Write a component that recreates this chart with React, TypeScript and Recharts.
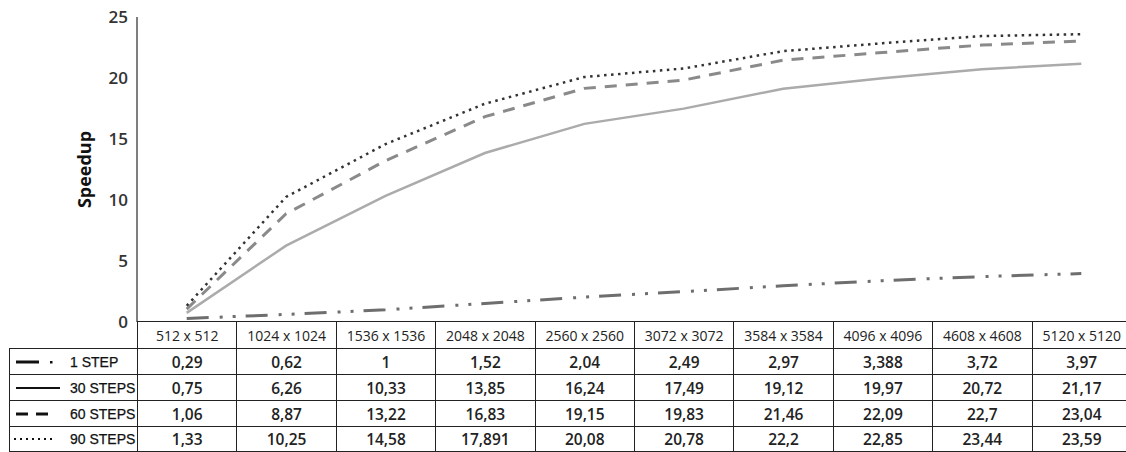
import React from 'react';
import { LineChart, Line, XAxis, YAxis } from 'recharts';

const categories = [
  '512 x 512',
  '1024 x 1024',
  '1536 x 1536',
  '2048 x 2048',
  '2560 x 2560',
  '3072 x 3072',
  '3584 x 3584',
  '4096 x 4096',
  '4608 x 4608',
  '5120 x 5120',
];

const step1 = [0.29, 0.62, 1, 1.52, 2.04, 2.49, 2.97, 3.388, 3.72, 3.97];
const steps30 = [0.75, 6.26, 10.33, 13.85, 16.24, 17.49, 19.12, 19.97, 20.72, 21.17];
const steps60 = [1.06, 8.87, 13.22, 16.83, 19.15, 19.83, 21.46, 22.09, 22.7, 23.04];
const steps90 = [1.33, 10.25, 14.58, 17.891, 20.08, 20.78, 22.2, 22.85, 23.44, 23.59];

const yTicks = [0, 5, 10, 15, 20, 25];

const series = [
  { key: 's1', label: '1 STEP', values: step1, color: '#6e6e6e', width: 3, dash: '22 11 3 10 3 10' },
  { key: 's30', label: '30 STEPS', values: steps30, color: '#ababab', width: 2.5, dash: undefined },
  { key: 's60', label: '60 STEPS', values: steps60, color: '#8a8a8a', width: 3, dash: '12 9' },
  { key: 's90', label: '90 STEPS', values: steps90, color: '#333333', width: 2.5, dash: '2.5 4.5' },
];

const data = categories.map((c, i) => {
  const row: Record<string, string | number> = { name: c };
  series.forEach((s) => {
    row[s.key] = s.values[i];
  });
  return row;
});

const AXIS_X = 137;
const COL_W = 99.4;
const fmt = (v: number) => String(v).replace('.', ',');

function LegendKey({ kind }: { kind: string }) {
  return (
    <svg width={60} height={10} style={{ display: 'block', flex: 'none' }}>
      {kind === 's1' && (
        <>
          <line x1={6} y1={5} x2={29} y2={5} stroke="#111" strokeWidth={3} />
          <rect x={40} y={4} width={2.5} height={2.5} fill="#111" />
        </>
      )}
      {kind === 's30' && <line x1={6} y1={5} x2={50} y2={5} stroke="#111" strokeWidth={2} />}
      {kind === 's60' && (
        <>
          <line x1={6} y1={5} x2={18} y2={5} stroke="#111" strokeWidth={3} />
          <line x1={26} y1={5} x2={38} y2={5} stroke="#111" strokeWidth={3} />
        </>
      )}
      {kind === 's90' && (
        <line x1={4} y1={5} x2={44} y2={5} stroke="#111" strokeWidth={2} strokeDasharray="2 4" />
      )}
    </svg>
  );
}

export default function App() {
  const border = '1px solid #222';
  const rowH = [27, 26, 26, 26, 25];
  return (
    <div
      style={{
        position: 'absolute',
        left: 0,
        top: 0,
        width: 1126,
        height: 452,
        overflow: 'hidden',
        background: '#fff',
      }}
    >
      <LineChart
        width={AXIS_X + COL_W * 10}
        height={345}
        data={data}
        margin={{ top: 17, right: 0, bottom: 23, left: 0 }}
      >
        <XAxis dataKey="name" hide padding={{ left: COL_W / 2, right: COL_W / 2 }} />
        <YAxis
          width={AXIS_X}
          domain={[0, 25]}
          ticks={yTicks}
          tickLine={false}
          axisLine={{ stroke: '#555', strokeWidth: 1.5 }}
          tick={{ fill: '#333', fontSize: 17, fontWeight: 600, fontFamily: 'Open Sans' }}
          tickMargin={3}
          label={{
            value: 'Speedup',
            angle: -90,
            position: 'center',
            dx: 16,
            style: { fill: '#111', fontSize: 18, fontWeight: 700, fontFamily: 'Open Sans' },
          }}
        />
        {series.map((s) => (
          <Line
            key={s.key}
            dataKey={s.key}
            type="linear"
            stroke={s.color}
            strokeWidth={s.width}
            strokeDasharray={s.dash}
            dot={false}
            activeDot={false}
            isAnimationActive={false}
          />
        ))}
      </LineChart>

      <table
        style={{
          position: 'absolute',
          left: 9,
          top: 321,
          borderCollapse: 'collapse',
          tableLayout: 'fixed',
          width: AXIS_X - 9 + COL_W * 10,
          color: '#111',
        }}
      >
        <colgroup>
          <col style={{ width: AXIS_X - 9 }} />
          {categories.map((c) => (
            <col key={c} style={{ width: COL_W }} />
          ))}
        </colgroup>
        <tbody>
          <tr style={{ height: rowH[0] }}>
            <td style={{ padding: 0, borderRight: border }} />
            {categories.map((c) => (
              <td
                key={c}
                style={{
                  border,
                  padding: 0,
                  textAlign: 'center',
                  fontFamily: 'Open Sans',
                  fontSize: 14,
                  color: '#222',
                }}
              >
                {c}
              </td>
            ))}
          </tr>
          {series.map((s, r) => (
            <tr key={s.key} style={{ height: rowH[r + 1] }}>
              <td style={{ border, padding: 0, overflow: 'hidden' }}>
                <div style={{ display: 'flex', alignItems: 'center' }}>
                  <LegendKey kind={s.key} />
                  <span
                    style={{
                      fontFamily: 'Liberation Sans',
                      fontSize: 14,
                      color: '#111',
                      whiteSpace: 'nowrap',
                      WebkitTextStroke: '0.25px #111',
                    }}
                  >
                    {s.label}
                  </span>
                </div>
              </td>
              {s.values.map((v, i) => (
                <td
                  key={i}
                  style={{
                    border,
                    padding: 0,
                    textAlign: 'center',
                    fontFamily: 'Open Sans',
                    fontWeight: 600,
                    fontSize: 15.5,
                    color: '#222',
                  }}
                >
                  {fmt(v)}
                </td>
              ))}
            </tr>
          ))}
        </tbody>
      </table>
    </div>
  );
}
